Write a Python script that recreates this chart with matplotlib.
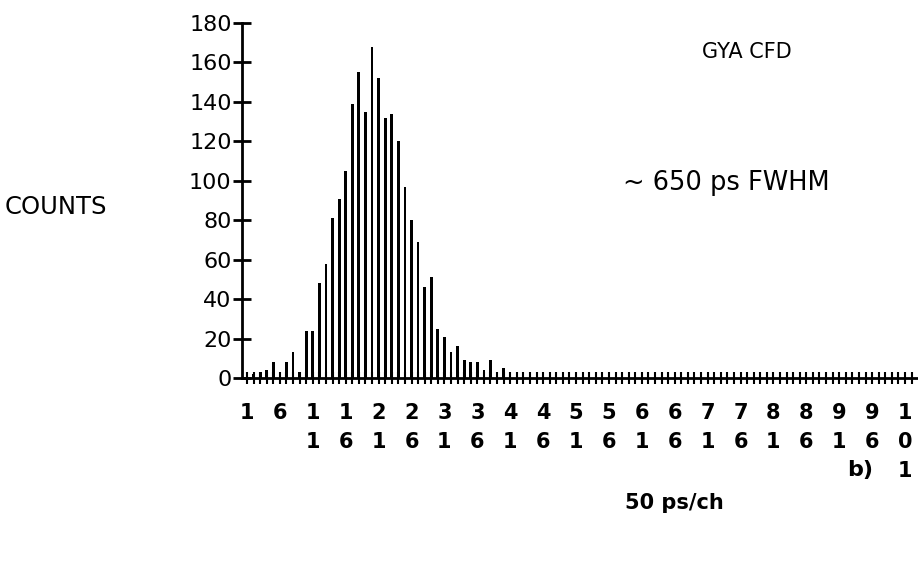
import matplotlib
matplotlib.use("Agg")
import matplotlib.pyplot as plt

# channel numbers and counts (zero beyond channel 40)
channels = list(range(1, 103))
counts_peak = [1, 2, 3, 4, 8, 2, 8, 13, 3, 24,
               24, 48, 58, 81, 91, 105, 139, 155, 135, 168,
               152, 132, 134, 120, 97, 80, 69, 46, 51, 25,
               21, 13, 16, 9, 8, 8, 4, 9, 3, 5]
counts = counts_peak + [0] * (len(channels) - len(counts_peak))

major_ticks = list(range(1, 102, 5))
major_labels = ["\n".join(str(n)) for n in major_ticks]
y_ticks = list(range(0, 181, 20))

plt.rcParams["font.family"] = "DejaVu Sans"

fig = plt.figure(figsize=(9.18, 5.72), dpi=100)
ax = fig.add_axes([242 / 918, 1 - 378 / 572, 1 - 242 / 918, (378 - 23) / 572])

ax.bar(channels, counts, width=0.42, color="black", linewidth=0)

ax.set_xlim(0.24, 102.97)
ax.set_ylim(0, 180)

for side in ["top", "right"]:
    ax.spines[side].set_visible(False)
ax.spines["left"].set_linewidth(2)
ax.spines["bottom"].set_linewidth(2)

ax.set_yticks(y_ticks)
ax.set_yticklabels([str(v) for v in y_ticks], fontsize=16)
ax.tick_params(axis="y", direction="inout", length=13, width=2, pad=1)

ax.set_xticks(major_ticks)
ax.set_xticklabels(major_labels, fontsize=15, fontweight="bold",
                   linespacing=1.55, va="top")
ax.set_xticks(channels, minor=True)
ax.tick_params(axis="x", which="both", direction="inout", length=8, width=1.5, pad=14)

fig.text(5 / 918, 1 - 207 / 572, "COUNTS", fontsize=17.5, va="center", ha="left")
fig.text(747 / 918, 1 - 52 / 572, "GYA CFD", fontsize=15, va="center", ha="center")
fig.text(623 / 918, 1 - 183 / 572, "~ 650 ps FWHM", fontsize=18.5, va="center", ha="left")
fig.text(847 / 918, 1 - 470 / 572, "b)", fontsize=16, fontweight="bold", va="center", ha="left")
fig.text(625 / 918, 1 - 503 / 572, "50 ps/ch", fontsize=15, fontweight="bold", va="center", ha="left")

fig.savefig("out.png", dpi=100)
